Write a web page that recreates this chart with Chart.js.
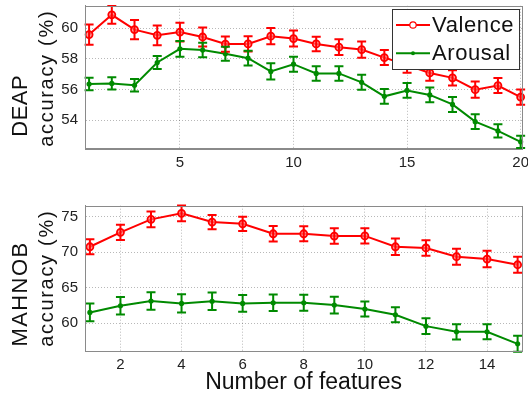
<!DOCTYPE html>
<html><head><meta charset="utf-8">
<script src="https://cdn.jsdelivr.net/npm/chart.js@4/dist/chart.umd.min.js"></script>
<style>
html,body{margin:0;padding:0;background:#fff;width:528px;height:399px;overflow:hidden}
canvas{position:absolute;left:0}
#c1{top:0}
#c2{top:185px}
</style></head><body>
<canvas id="c1" width="528" height="185"></canvas>
<canvas id="c2" width="528" height="214"></canvas>
<script>
// ---- data ----
const deapFeatures = [1,2,3,4,5,6,7,8,9,10,11,12,13,14,15,16,17,18,19,20];
const deapValence = [59.58,60.86,59.9,59.53,59.74,59.42,58.96,58.97,59.47,59.32,58.97,58.76,58.6,58.08,57.6,57.08,56.76,55.99,56.26,55.51];
const deapValenceErr = [0.66,0.58,0.62,0.64,0.61,0.62,0.5,0.5,0.53,0.52,0.47,0.52,0.53,0.49,0.5,0.5,0.5,0.53,0.49,0.5];
const deapArousal = [56.36,56.4,56.28,57.76,58.65,58.57,58.33,58.04,57.18,57.65,57.05,57.05,56.47,55.56,55.94,55.65,55.03,53.91,53.31,52.6];
const deapArousalErr = [0.41,0.4,0.4,0.43,0.51,0.47,0.46,0.48,0.53,0.49,0.47,0.47,0.49,0.48,0.48,0.48,0.49,0.48,0.43,0.4];

const mahnobFeatures = [1,2,3,4,5,6,7,8,9,10,11,12,13,14,15];
const mahnobValence = [70.77,72.8,74.63,75.47,74.25,74.0,72.6,72.6,72.28,72.3,70.77,70.6,69.37,69.04,68.24];
const mahnobValenceErr = [1.06,1.06,1.1,1.1,1.0,1.0,1.08,1.06,1.1,1.06,1.17,1.1,1.13,1.17,1.13];
const mahnobArousal = [61.53,62.47,63.13,62.8,63.1,62.8,62.89,62.89,62.56,62.0,61.2,59.6,58.8,58.8,57.11];
const mahnobArousalErr = [1.24,1.24,1.24,1.27,1.22,1.17,1.17,1.13,1.17,1.06,1.06,1.1,1.08,1.06,1.13];

const deapXTicks = [5,10,15,20];
const deapYTicks = [54,56,58,60];
const mahnobXTicks = [2,4,6,8,10,12,14];
const mahnobYTicks = [60,65,70,75];

const seriesLabels = ['Valence','Arousal'];
const xTitle = 'Number of features';
const deapYTitle = ['DEAP','accuracy (%)'];
const mahnobYTitle = ['MAHNOB','accuracy (%)'];

// ---- styles ----
const FONT = '"Liberation Sans", Arial, Helvetica, sans-serif';
const RED = '#ff0000', GREEN = '#008a00';

function pts(xs, ys){ return xs.map((x,i)=>({x:x, y:ys[i]})); }

const errorBars = {
  id:'errorBars',
  afterDatasetsDraw(chart){
    const {ctx, scales:{x,y}} = chart;
    chart.data.datasets.forEach(ds=>{
      if(!ds.errors) return;
      ctx.save();
      ctx.strokeStyle = ds.borderColor; ctx.lineWidth = 2;
      ds.data.forEach((p,j)=>{
        const e = ds.errors[j];
        const px = x.getPixelForValue(p.x);
        const y1 = y.getPixelForValue(p.y - e), y2 = y.getPixelForValue(p.y + e);
        const c = 4.5;
        ctx.beginPath();
        ctx.moveTo(px,y1); ctx.lineTo(px,y2);
        ctx.moveTo(px-c,y1); ctx.lineTo(px+c,y1);
        ctx.moveTo(px-c,y2); ctx.lineTo(px+c,y2);
        ctx.stroke();
      });
      ctx.restore();
    });
  }
};

const frameAndTitles = {
  id:'frameAndTitles',
  afterDraw(chart, args, opts){
    const {ctx, chartArea:a} = chart;
    ctx.save();
    ctx.strokeStyle = '#8a8a8a'; ctx.lineWidth = 1;
    ctx.strokeRect(Math.round(a.left)+0.5, Math.round(a.top)+0.5, Math.round(a.right-a.left)-1+1, Math.round(a.bottom-a.top));
    // y titles
    ctx.fillStyle = '#111';
    ctx.textAlign = 'center'; ctx.textBaseline = 'alphabetic';
    const drawRot = (txt, bx, cy, size, sp)=>{
      ctx.save();
      ctx.translate(bx, cy); ctx.rotate(-Math.PI/2);
      ctx.font = size + 'px ' + FONT;
      ctx.letterSpacing = sp + 'px';
      ctx.fillText(txt, 0, 0);
      ctx.restore();
    };
    drawRot(opts.lines[0], 26.7, opts.c0, 22, opts.sp0);
    drawRot(opts.lines[1], 52.5, opts.c1, 20, 1.7);
    // legend
    if (opts.legend) {
      const L = opts.legend;
      ctx.fillStyle = '#fff';
      ctx.fillRect(L.x, L.y, L.w, L.h);
      ctx.strokeStyle = '#333'; ctx.lineWidth = 1;
      ctx.strokeRect(L.x+0.5, L.y+0.5, L.w, L.h);
      chart.data.datasets.forEach((ds,i)=>{
        const yy = L.y + 16 + i*28.3;
        ctx.strokeStyle = ds.borderColor; ctx.lineWidth = 2;
        ctx.beginPath(); ctx.moveTo(L.x+4, yy); ctx.lineTo(L.x+38, yy); ctx.stroke();
        ctx.beginPath(); ctx.arc(L.x+21, yy, i===0?3.2:2, 0, Math.PI*2);
        if (i===0){ ctx.fillStyle='#fff'; ctx.fill(); ctx.lineWidth=1.2; ctx.stroke(); }
        else { ctx.fillStyle = ds.borderColor; ctx.fill(); }
        ctx.fillStyle = '#111';
        ctx.font = '22px ' + FONT; ctx.letterSpacing = '0.6px';
        ctx.textAlign = 'left'; ctx.textBaseline = 'middle';
        ctx.fillText(ds.label, L.x+40, yy+1);
      });
    }
    ctx.restore();
  }
};

function makeDatasets(xs, v, ve, a, ae){
  return [
    {label: seriesLabels[0], data: pts(xs,v), errors: ve, borderColor: RED, backgroundColor: RED,
     borderWidth: 2, pointRadius: 3.5, pointBorderWidth: 1.8, pointBackgroundColor: 'rgba(255,120,120,0.7)',
     pointBorderColor: RED, clip: false, tension: 0},
    {label: seriesLabels[1], data: pts(xs,a), errors: ae, borderColor: GREEN, backgroundColor: GREEN,
     borderWidth: 2, pointRadius: 2.6, pointBorderWidth: 0, pointBackgroundColor: GREEN, clip: false, tension: 0}
  ];
}

function axes(xmin, xmax, xticks, ymin, ymax, yticks, xh, withTitle){
  const gridCol = 'rgba(0,0,0,0.28)';
  return {
    x: {type:'linear', min:xmin, max:xmax,
        afterBuildTicks: s=>{ s.ticks = xticks.map(v=>({value:v})); },
        afterFit: s=>{ s.height = xh; s.paddingLeft = 0; s.paddingRight = 0; },
        ticks:{color:'#222', font:{size:15, family:FONT}, padding:5, maxRotation:0, autoSkip:false},
        grid:{color:gridCol, drawTicks:false, lineWidth:1},
        border:{display:true, color:'#8a8a8a', dash:[1,2]},
        title: withTitle ? {display:true, text:xTitle, color:'#111', font:{size:23, family:FONT}, padding:{top:0,bottom:3}} : {display:false}
    },
    y: {type:'linear', min:ymin, max:ymax,
        afterBuildTicks: s=>{ s.ticks = yticks.map(v=>({value:v})); },
        afterFit: s=>{ s.width = 85; s.paddingTop = 0; s.paddingBottom = 0; },
        ticks:{color:'#222', font:{size:15, family:FONT}, padding:7},
        grid:{color:gridCol, drawTicks:false, lineWidth:1},
        border:{display:true, color:'#8a8a8a', dash:[1,2]}
    }
  };
}

Chart.defaults.font.family = FONT;

new Chart(document.getElementById('c1'), {
  type:'line',
  data:{datasets: makeDatasets(deapFeatures, deapValence, deapValenceErr, deapArousal, deapArousalErr)},
  options:{
    responsive:false, animation:false, devicePixelRatio:1,
    layout:{padding:{left:0, right:6, top:4, bottom:0}},
    scales: axes(0.82, 20.06, deapXTicks, 52.15, 61.45, deapYTicks, 185-148.7, false),
    plugins:{legend:{display:false}, tooltip:{enabled:false},
      frameAndTitles:{lines:deapYTitle, c0:105.8, c1:78.3, sp0:0.5,
        legend:{x:392, y:9, w:127, h:60}}}
  },
  plugins:[errorBars, frameAndTitles]
});

new Chart(document.getElementById('c2'), {
  type:'line',
  data:{datasets: makeDatasets(mahnobFeatures, mahnobValence, mahnobValenceErr, mahnobArousal, mahnobArousalErr)},
  options:{
    responsive:false, animation:false, devicePixelRatio:1,
    layout:{padding:{left:0, right:2.7, top:20.7, bottom:0}},
    scales: axes(0.84, 15.15, mahnobXTicks, 56.1, 76.55, mahnobYTicks, 214-166, true),
    plugins:{legend:{display:false}, tooltip:{enabled:false},
      frameAndTitles:{lines:mahnobYTitle, c0:109, c1:93.3, sp0:1.4}}
  },
  plugins:[errorBars, frameAndTitles]
});
</script>
</body></html>
